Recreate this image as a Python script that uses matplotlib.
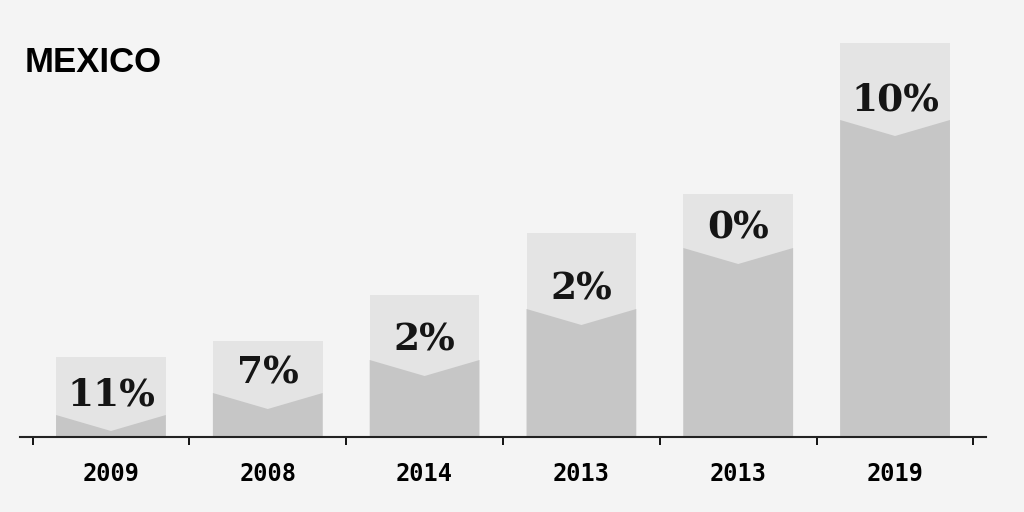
import matplotlib
matplotlib.use("Agg")
import matplotlib.pyplot as plt
from matplotlib.patches import Polygon, Rectangle
import numpy as np

years = ["2009", "2008", "2014", "2013", "2013", "2019"]
totals = [80, 96, 142, 204, 243, 394]
lower = [22, 44, 77, 128, 189, 317]
labels = ["11%", "7%", "2%", "2%", "0%", "10%"]

fig = plt.figure(figsize=(10.24, 5.12), dpi=100)
fig.patch.set_facecolor("#f4f4f4")
ax = fig.add_axes([20/1024, 75/512, 966/1024, 400/512])
ax.set_facecolor("#f4f4f4")
ax.set_xlim(-0.58, 5.58)
ax.set_ylim(0, 400)
w = 0.70
notch = 16
for i, (t, d, lab) in enumerate(zip(totals, lower, labels)):
    ax.add_patch(Rectangle((i - w/2, 0), w, t, color="#e4e4e4", lw=0))
    ax.add_patch(Polygon([(i - w/2, 0), (i - w/2, d), (i, d - notch), (i + w/2, d), (i + w/2, 0)],
                         closed=True, color="#c6c6c6", lw=0))
    ax.text(i, d + 20, lab, ha="center", va="center", fontsize=27, fontweight="bold",
            family="DejaVu Serif", color="#151515")
for s in ["top", "right", "left"]:
    ax.spines[s].set_visible(False)
ax.spines["bottom"].set_linewidth(1.5)
ax.spines["bottom"].set_color("#222222")
ax.set_yticks([])
ax.set_xticks(np.arange(-0.5, 6, 1), minor=True)
ax.tick_params(axis="x", which="minor", length=6, width=1.3)
ax.set_xticks(range(len(years)))
ax.set_xticklabels(years, fontsize=17, fontweight="bold", family="DejaVu Sans Mono")
ax.tick_params(axis="x", which="major", length=0, pad=18)
fig.text(25/1024, 1 - 62/512, "MEXICO", fontsize=25, fontweight="bold", va="center",
         family="Liberation Sans")
fig.savefig("out.png", facecolor=fig.get_facecolor())
